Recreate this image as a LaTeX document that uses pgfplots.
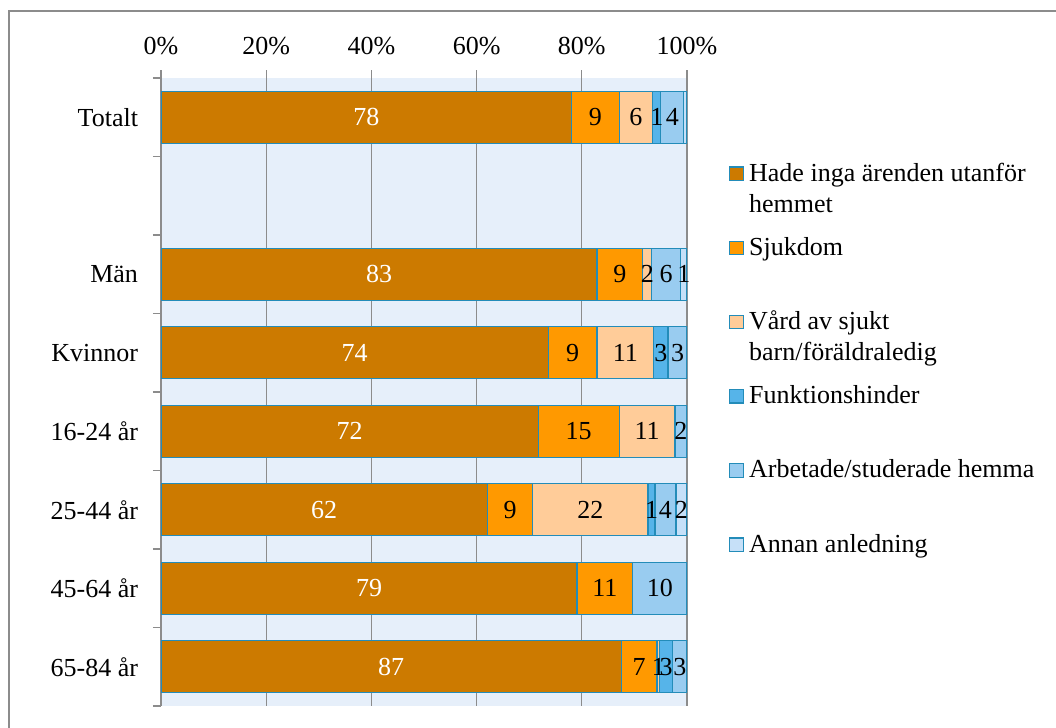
\documentclass[border=0pt]{standalone}
\usepackage{fontspec}
\setmainfont{Liberation Serif}
\usepackage{pgfplots}
\usepackage{pgfplotstable}
\pgfplotsset{compat=1.18}

\definecolor{cHade}{RGB}{204,122,0}
\definecolor{cSjuk}{RGB}{255,153,0}
\definecolor{cVard}{RGB}{255,204,153}
\definecolor{cFunk}{RGB}{86,180,233}
\definecolor{cArb}{RGB}{153,204,240}
\definecolor{cAnnan}{RGB}{198,224,248}
\definecolor{cEdge}{RGB}{35,140,185}
\definecolor{cBg}{RGB}{230,239,250}
\definecolor{cGrid}{RGB}{140,140,140}

% y: 0 Totalt, 1 tom rad, 2 Män, 3 Kvinnor, 4-7 åldersgrupper
\pgfplotstableread{
y a    la b    lb c    lc d   ld e    le f   lf
0 78.1 78 9.0  9  6.4  6  1.5 1  4.4  4  0.6 {}
2 82.9 83 8.7  9  1.7  2  0   {} 5.5  6  1.2 1
3 73.6 74 9.3  9  10.8 11 2.7 3  3.6  3  0   {}
4 71.7 72 15.4 15 10.6 11 0   {} 2.3  2  0   {}
5 62.0 62 8.7  9  21.9 22 1.3 1  4.0  4  2.1 2
6 79.1 79 10.6 11 0    {} 0   {} 10.3 10 0   {}
7 87.5 87 6.8  7  0.5  1  2.5 3  2.7  3  0   {}
}\data

\newcommand\fs{\fontsize{13bp}{15.5bp}\selectfont}

\pgfplotsset{
  seg/.style={fill=#1, draw=cEdge, line width=0.6bp,
    legend image code/.code={\path (0bp,0bp);
      \draw[##1, line width=0.6bp] (0bp,0.3bp) rectangle (7bp,7bp);}},
}

\begin{document}
\begin{tikzpicture}
\useasboundingbox (0,0) rectangle (528bp,364bp);
\draw[cGrid, line width=0.7bp] (4.5bp,-10bp) -- (4.5bp,358.5bp) -- (560bp,358.5bp);
\begin{axis}[
  at={(80.5bp,11bp)}, anchor=south west,
  width=263bp, height=314bp, scale only axis,
  xbar stacked, bar width=26bp,
  xmin=0, xmax=100, ymin=-0.5, ymax=7.5,
  y dir=reverse,
  axis x line*=top, axis y line*=left,
  axis line style={-, draw=cGrid, line width=0.7bp},
  x axis line style={draw=none},
  axis background/.style={fill=cBg},
  xtick={0,20,40,60,80,100},
  xticklabels={0\%,20\%,40\%,60\%,80\%,100\%},
  xticklabel style={yshift=4bp},
  yticklabel style={xshift=-8bp},
  xmajorgrids, grid style={cGrid, line width=0.6bp},
  ytick={-0.5,0.5,...,7.5}, yticklabels={},
  extra y ticks={0,2,3,4,5,6,7},
  extra y tick labels={Totalt,Män,Kvinnor,16-24 år,25-44 år,45-64 år,65-84 år},
  extra tick style={major tick length=0pt},
  tick align=outside, major tick length=4bp,
  tick style={cGrid, line width=0.6bp},
  tick label style={font=\fs},
  nodes near coords, point meta=explicit symbolic,
  every node near coord/.append style={anchor=center, font=\fs},
  legend style={at={(1.0798,0.8745)}, anchor=north west, draw=none, fill=none,
    inner sep=0pt, outer sep=0pt, row sep=0pt, column sep=2.5bp, font=\fs,
    cells={anchor=base west},
    nodes={inner sep=0pt, outer sep=0pt, text height=12.1bp, text depth=25bp}},
]
\addplot[seg=cHade, every node near coord/.append style={text=white}] table[x=a, y=y, meta=la] {\data};
\addplot[seg=cSjuk] table[x=b, y=y, meta=lb] {\data};
\addplot[seg=cVard] table[x=c, y=y, meta=lc] {\data};
\addplot[seg=cFunk] table[x=d, y=y, meta=ld] {\data};
\addplot[seg=cArb] table[x=e, y=y, meta=le] {\data};
\addplot[seg=cAnnan] table[x=f, y=y, meta=lf] {\data};
\legend{\parbox[t]{180bp}{Hade inga ärenden utanför\\hemmet},
  Sjukdom,
  \parbox[t]{180bp}{Vård av sjukt\\barn/föräldraledig},
  Funktionshinder,
  Arbetade/studerade hemma,
  Annan anledning}
\end{axis}
\end{tikzpicture}
\end{document}
